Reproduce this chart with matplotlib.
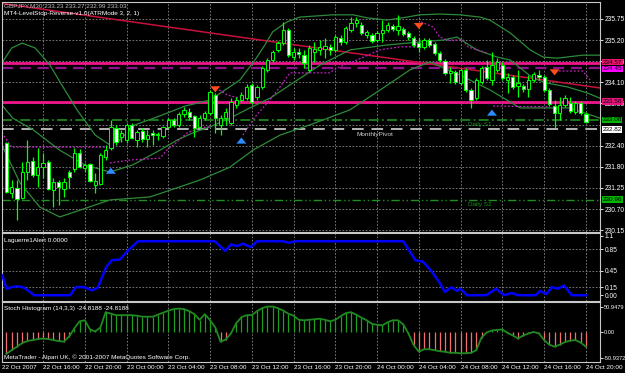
import numpy as np
import matplotlib
matplotlib.use("Agg")
import matplotlib.pyplot as plt
from matplotlib import font_manager

"""################# DATA (read off the chart) #################"""
# GBPJPY M30, bar index 0..111 (22 Oct 12:30 .. 24 Oct 20:00)
opens = [232.46, 231.13, 231.27, 231.00, 231.69, 231.98, 231.61, 231.82, 231.96, 231.21,
         231.43, 231.24, 231.69, 231.77, 232.19, 231.80, 231.90, 231.35, 231.37, 232.09,
         232.33, 232.86, 232.62, 232.54, 232.94, 232.54, 232.78, 232.57, 232.73, 232.67,
         232.65, 232.89, 233.07, 232.94, 233.23, 233.28, 233.18, 232.89, 233.12, 233.26,
         233.73, 232.94, 233.12, 232.99, 233.47, 233.60, 233.65, 234.00, 233.68, 233.95,
         234.40, 234.66, 234.93, 235.11, 235.46, 234.74, 234.87, 234.79, 234.40, 234.87,
         234.93, 234.95, 235.01, 234.93, 235.25, 235.14, 235.46, 235.64, 235.59, 235.33,
         235.33, 235.19, 235.38, 235.46, 235.56, 235.46, 235.48, 235.38, 235.25, 235.11,
         235.01, 235.19, 235.09, 234.85, 234.64, 234.32, 234.34, 234.05, 234.40, 233.87,
         233.65, 234.08, 234.48, 234.13, 234.40, 234.53, 234.13, 234.21, 233.97, 233.97,
         233.89, 234.13, 234.26, 234.21, 233.87, 233.44, 233.26, 233.47, 233.52, 233.28,
         233.52, 233.23]
highs = [232.49, 231.48, 231.48, 231.96, 232.54, 232.09, 232.33, 232.19, 232.01, 231.53,
         231.48, 231.53, 231.74, 232.33, 232.30, 231.93, 231.93, 231.66, 232.19, 232.41,
         233.07, 232.94, 232.81, 232.99, 232.99, 232.81, 232.86, 232.81, 232.81, 232.75,
         232.91, 233.12, 233.12, 233.28, 233.42, 233.39, 233.20, 233.20, 233.31, 233.87,
         233.79, 233.20, 233.39, 233.65, 233.68, 233.81, 234.03, 234.05, 234.00, 234.50,
         234.71, 234.93, 235.17, 235.67, 235.51, 234.98, 234.98, 234.93, 235.06, 235.14,
         235.19, 235.25, 235.09, 235.33, 235.33, 235.56, 235.80, 235.80, 235.67, 235.46,
         235.38, 235.43, 235.72, 235.67, 235.62, 235.86, 235.54, 235.43, 235.30, 235.25,
         235.25, 235.25, 235.14, 234.90, 234.69, 234.48, 234.40, 234.45, 234.45, 233.92,
         234.18, 234.50, 234.66, 234.87, 234.71, 234.61, 234.32, 234.26, 234.40, 234.03,
         234.26, 234.34, 234.40, 234.26, 233.92, 233.60, 233.68, 233.73, 233.68, 233.57,
         233.57, 233.27]
lows = [231.13, 231.00, 230.42, 230.97, 231.48, 231.56, 231.29, 231.53, 231.21, 230.76,
        230.82, 231.03, 231.27, 231.69, 231.80, 231.69, 231.43, 231.13, 231.35, 232.01,
        232.27, 232.41, 232.49, 232.46, 232.57, 232.35, 232.49, 232.35, 232.41, 232.54,
        232.59, 232.86, 232.89, 232.89, 233.15, 233.07, 232.62, 232.86, 233.07, 233.20,
        232.73, 232.67, 232.94, 232.94, 233.39, 233.55, 233.60, 233.50, 233.60, 233.89,
        234.34, 234.61, 234.87, 235.06, 234.74, 234.66, 234.71, 234.45, 234.34, 234.61,
        234.79, 234.71, 234.79, 234.87, 235.06, 235.09, 235.41, 235.54, 235.33, 235.25,
        235.11, 235.14, 235.14, 235.41, 235.43, 235.33, 235.30, 235.19, 235.01, 234.87,
        234.95, 235.01, 234.79, 234.61, 234.26, 234.05, 234.03, 234.00, 233.81, 233.39,
        233.60, 234.03, 234.13, 234.00, 234.34, 234.13, 233.79, 233.89, 233.68, 233.81,
        233.68, 234.08, 234.13, 233.81, 233.44, 232.86, 233.07, 233.42, 233.26, 233.23,
        233.20, 232.99]
closes = [231.16, 231.29, 230.97, 231.69, 231.96, 231.61, 231.82, 231.93, 231.24, 231.43,
          231.29, 231.43, 231.56, 232.19, 231.82, 231.88, 231.45, 231.45, 232.14, 232.27,
          232.89, 232.49, 232.73, 232.94, 232.59, 232.75, 232.57, 232.67, 232.67, 232.70,
          232.89, 233.07, 232.94, 233.23, 233.34, 233.15, 232.86, 233.12, 233.26, 233.81,
          233.12, 233.12, 233.28, 233.55, 233.60, 233.73, 233.95, 233.55, 233.95, 234.45,
          234.66, 234.87, 235.11, 235.46, 234.79, 234.87, 234.82, 234.58, 234.98, 234.95,
          235.01, 235.03, 234.93, 235.27, 235.14, 235.51, 235.64, 235.72, 235.38, 235.41,
          235.17, 235.38, 235.46, 235.59, 235.48, 235.56, 235.35, 235.27, 235.06, 235.01,
          235.19, 235.06, 234.85, 234.66, 234.32, 234.37, 234.08, 234.40, 233.87, 233.60,
          234.13, 234.45, 234.18, 234.53, 234.61, 234.18, 234.21, 233.95, 234.05, 233.89,
          234.13, 234.29, 234.21, 233.87, 233.50, 233.26, 233.47, 233.65, 233.31, 233.52,
          233.26, 233.03]

# Bollinger-type bands (vertices: bar index, price)
band_up_x = [-0.9, 1, 3, 5.5, 8.3, 10.6, 13.5, 17, 19.8, 21.7, 24.6, 29.4, 34.2, 39, 44.7, 47.6,
             49.5, 51, 53.7, 56.2, 62.5, 66.4, 69.1, 72.9, 76.7, 79.2, 83, 86.9, 90.7, 92.6,
             96.5, 100.3, 102.8, 105.5, 110.4, 113.7]
band_up_y = [234.58, 234.98, 235.11, 234.98, 234.53, 234.00, 233.34, 232.67, 232.41, 232.54,
             232.94, 233.18, 233.44, 233.60, 234.13, 234.66, 235.06, 235.41, 235.67, 235.80,
             235.86, 235.86, 235.78, 235.72, 235.80, 235.86, 235.88, 235.86, 235.80, 235.72,
             235.38, 234.93, 234.74, 234.71, 234.79, 234.79]
band_mid_x = [-0.9, 1.2, 5.1, 10.2, 15, 19.8, 24.2, 29.4, 32.7, 35.7, 39, 42.8, 46.6, 50.5, 54.3,
              60.1, 65.8, 72.9, 79.2, 83.6, 86.3, 90.1, 94, 96.5, 100.9, 103.5, 107.4, 111.2, 113.7]
band_mid_y = [233.47, 233.12, 232.81, 232.27, 231.88, 231.69, 231.88, 232.27, 232.54, 232.73,
              232.89, 233.12, 233.39, 233.65, 234.00, 234.53, 234.93, 235.06, 235.14, 235.19,
              235.27, 234.93, 234.74, 234.66, 234.18, 234.05, 233.95, 233.79, 233.65]
band_lo_x = [-0.9, 2.6, 6.4, 10.2, 14.1, 19.8, 27.5, 37.1, 42.8, 47.2, 52.4, 58.1, 65.8, 71.6,
             77.3, 81.1, 86.9, 92.6, 98.4, 104.1, 107.9, 113.7]
band_lo_y = [232.41, 231.40, 230.76, 230.50, 230.68, 230.95, 231.03, 231.48, 231.82, 232.27,
             232.67, 232.94, 233.34, 233.87, 234.40, 234.61, 234.26, 233.87, 233.39, 233.39,
             233.39, 233.12]

# LevelStop-Reverse trailing stop, one list per segment
stop_segments = [
    ([-0.9, 1, 19], [232.73, 232.35, 232.35]),
    ([19.8, 23.7, 29.4, 30.7, 32.7, 34.6, 37.1, 39], [231.93, 232.01, 232.06, 232.27, 232.49, 232.73, 232.86, 232.89]),
    ([40.1, 42.4, 44.7], [233.92, 233.73, 233.65]),
    ([45.3, 47.6, 50.9, 52.4, 54.3, 61.9, 63.3, 67.1, 71.5, 75.4, 78.6],
     [232.67, 233.15, 233.68, 233.95, 234.32, 234.32, 234.45, 234.66, 234.93, 235.01, 235.01]),
    ([79.4, 81.7, 83, 84.4, 87.5, 88.4, 92], [235.67, 235.54, 235.27, 235.19, 235.19, 235.01, 234.85]),
    ([93.2, 104.1], [233.44, 233.42]),
    ([105.1, 110.4, 111.8], [234.37, 234.37, 234.13]),
]
sell_x, sell_y = [40, 79, 105], [233.87, 235.55, 234.32]
buy_x, buy_y = [20, 45, 93], [231.74, 232.54, 233.28]

trend_x, trend_y = [-0.86, 113.7], [236.16, 233.92]

# horizontal levels: price, colour, style, width
levels = [
    (234.57, '#f0148c', '-', 2.0),
    (234.45, '#8c148c', (0, (5, 3)), 1.6),
    (233.56, '#f0148c', '-', 2.0),
    (233.08, '#1f8f1f', (0, (6, 2, 1, 2)), 1.2),
    (232.82, '#b4b4b4', (0, (6, 4)), 1.4),
    (230.96, '#1f8f1f', (0, (6, 2, 1, 2, 1, 2)), 1.0),
]
level_boxes = [(234.60, '#e8146e'), (234.43, '#ff00ff'), (233.56, '#e8147e'),
               (233.08, '#00b400'), (232.82, '#ffffff'), (230.96, '#00b400')]
level_texts = ['234.57', '234.45', '233.56', '233.08', '232.82', '230.96']

price_ticks = [235.75, 235.19, 234.63, 234.07, 233.51, 232.39, 231.83, 231.27, 230.71, 230.15]
price_labels = ['235.75', '235.20', '234.65', '234.10', '233.55', '232.40', '231.80', '231.25',
                '230.70', '230.15']

# Laguerre (vertices: bar index, value)
lag_x = [-0.8, 0, 1, 2, 3.4, 5.3, 12.2, 13.3, 14.8, 16.4, 17.5, 19.1, 20.2, 21.7, 23.3, 25.2,
         39.9, 41.9, 43, 44.2, 45.3, 46.8, 48, 53, 54.1, 55.3, 76, 78.3, 79.8, 81.3, 82.9, 84,
         85.2, 86.3, 87, 88.2, 91.9, 93.8, 95.3, 96.8, 98, 101.4, 102.2, 103.4, 104.5, 105.6,
         106.8, 108.3, 111]
lag_v = [0.37, 0.12, 0.15, 0.165, 0.14, 0.0, 0.0, 0.15, 0.15, 0.09, 0.14, 0.52, 0.65, 0.66,
         0.83, 1.0, 1.0, 0.82, 0.94, 0.91, 0.955, 0.89, 1.0, 1.0, 0.97, 1.0, 1.0, 0.65, 0.62,
         0.46, 0.24, 0.06, 0.15, 0.08, 0.12, 0.0, 0.0, 0.12, 0.0, 0.04, 0.0, 0.0, 0.08, 0.02,
         0.15, 0.12, 0.18, 0.0, 0.0]

# Stoch histogram, one value per bar
stoch = [-42, -35, -28, -21, -17, -15, -13, -12, -13, -15, -17, -18, -8, 8, 22, 24, 6, 2, 10, 40,
         37, 34, 34, 34, 34, 33, 31, 31, 31, 35, 39, 43, 46, 47, 46, 42, 36, 25, 36, 24,
         10, -18, -14, -2, 18, 30, 34, 34, 42, 48, 51, 51, 48, 43, 37, 33, 25, 24, 25, 26,
         27, 25, 22, 25, 32, 38, 40, 35, 29, 24, 17, 15, 14, 20, 24, 24, 16, -2, -25, -38,
         -33, -33, -35, -37, -38, -40, -40, -41, -41, -40, -35, -10, 0, 4, 5, 6, -1, -6, -12, -6,
         -2, 1, -2, -15, -24, -28, -24, -19, -16, -15, -20, -28]

time_ticks = [7, 15, 23, 31, 39, 47, 55, 63, 71, 79, 87, 95, 103, 111]
time_labels = ['22 Oct 16:00', '22 Oct 20:00', '23 Oct 00:00', '23 Oct 04:00', '23 Oct 08:00',
               '23 Oct 12:00', '23 Oct 16:00', '23 Oct 20:00', '24 Oct 00:00', '24 Oct 04:00',
               '24 Oct 08:00', '24 Oct 12:00', '24 Oct 16:00', '24 Oct 20:00']

"""################# FIGURE #################"""
names = {f.name for f in font_manager.fontManager.ttflist}
if 'Liberation Sans Narrow' in names:
    plt.rcParams['font.family'] = ['Liberation Sans Narrow', 'DejaVu Sans']
    fs, fs_tick = 5.3, 5.5
else:
    plt.rcParams['font.family'] = ['Liberation Sans', 'DejaVu Sans']
    fs, fs_tick = 4.6, 4.8

W, H = 625, 373
fig = plt.figure(figsize=(W / 100, H / 100), dpi=100, facecolor='black')

def px_axes(l, t, r, b):
    return fig.add_axes([l / W, 1 - b / H, (r - l) / W, (b - t) / H], facecolor='black')

ax = px_axes(2, 2, 600, 232)
axl = px_axes(2, 233, 600, 301)
axs = px_axes(2, 302, 600, 362)

XL = (-0.86, 113.7)
grid_kw = dict(color='#8a8a8a', lw=0.6, ls=(0, (2, 2)), zorder=0)

for a in (ax, axl, axs):
    a.set_xlim(*XL)
    for s in a.spines.values():
        s.set_color('#c8c8c8')
        s.set_linewidth(0.8)
    a.tick_params(axis='x', bottom=False, labelbottom=False)
    a.yaxis.tick_right()
    a.tick_params(axis='y', colors='white', labelsize=fs_tick, length=2, width=0.6, pad=1.5)
    for t in time_ticks:
        a.axvline(t, **grid_kw)

# ---- main panel
ax.set_ylim(230.10, 236.20)
ax.set_yticks(price_ticks)
ax.set_yticklabels(price_labels)
for p in price_ticks + [232.95]:
    ax.axhline(p, **grid_kw)

for p, c, ls, lw in levels:
    ax.axhline(p, color=c, ls=ls, lw=lw, zorder=2)

ax.plot(trend_x, trend_y, color='#c8103c', lw=1.1, zorder=2)
band_kw = dict(color='#2d8a3a', lw=0.9, zorder=2)
ax.plot(band_up_x, band_up_y, **band_kw)
ax.plot(band_mid_x, band_mid_y, **band_kw)
ax.plot(band_lo_x, band_lo_y, **band_kw)
for sx, sy in stop_segments:
    ax.plot(sx, sy, color='#c020c0', lw=0.9, ls=(0, (1.5, 1.5)), zorder=2)

idx = np.arange(len(closes))
o, h, l, c = map(np.array, (opens, highs, lows, closes))
ax.vlines(idx, l, h, color='#00ff00', lw=0.9, zorder=3)
bear = c < o
ax.bar(idx, np.maximum(np.abs(c - o), 0.01), bottom=np.minimum(o, c), width=0.62,
       color=np.where(bear, 'white', 'black'), edgecolor='#00ff00', linewidth=0.7, zorder=4)

arrow = dict(arrowstyle='simple,head_width=0.9,head_length=0.55,tail_width=0.4', lw=0,
             mutation_scale=8)
for x, y in zip(sell_x, sell_y):
    ax.annotate('', xy=(x, y - 0.14), xytext=(x, y + 0.12),
                arrowprops=dict(color='#ff4a1a', **arrow), zorder=5)
for x, y in zip(buy_x, buy_y):
    ax.annotate('', xy=(x, y + 0.14), xytext=(x, y - 0.12),
                arrowprops=dict(color='#2a8cff', **arrow), zorder=5)

ax.text(88.4, 232.96, 'Daily S1', color='#1f8f1f', fontsize=fs, va='center')
ax.text(88.4, 230.84, 'Daily S2', color='#1f8f1f', fontsize=fs, va='center')
ax.text(67.1, 232.69, 'MonthlyPivot', color='#d0d0d0', fontsize=fs, va='center')

for (p, bg), txt in zip(level_boxes, level_texts):
    ax.text(1.004, p, txt, transform=ax.get_yaxis_transform(), fontsize=fs_tick - 0.2,
            color='black', va='center', ha='left', zorder=6,
            bbox=dict(boxstyle='square,pad=0.1', fc=bg, ec='none'), clip_on=False)

ax.text(0.004, 0.996, 'GBPJPY,M30 233.23 233.27 232.99 233.03', transform=ax.transAxes,
        color='#c0c0c0', fontsize=fs, va='top')
ax.text(0.004, 0.962, 'MT4-LevelStop-Reverse-v1.0(ATRMode 3, 2, 1)', transform=ax.transAxes,
        color='white', fontsize=fs, va='top')

# ---- Laguerre panel
axl.set_ylim(-0.107, 1.152)
axl.set_yticks([1.1, 0.85, 0.45, 0.15, 0.0])
axl.set_yticklabels(['1.1', '0.85', '0.45', '0.15', '0.00'])
for v in (0.85, 0.45, 0.15):
    axl.axhline(v, **grid_kw)
axl.plot(lag_x, lag_v, color='#0000ff', lw=1.8, zorder=3)
axl.text(0.004, 0.93, 'Laguerre1Alert 0.0000', transform=axl.transAxes, color='white',
         fontsize=fs, va='top')

# ---- Stoch histogram panel
axs.set_ylim(-58.2, 60)
axs.set_yticks([50.9479, 0, -50.9372])
axs.set_yticklabels(['50.9479', '0.00', '-50.9372'])
axs.tick_params(axis='y', labelsize=fs_tick - 0.7, pad=1)
sv = np.array(stoch)
axs.vlines(idx, 0, sv, colors=np.where(sv >= 0, '#1e9e1e', '#f07070'), lw=0.9, zorder=2)
axs.plot(idx, sv, color='#1f8a1f', lw=1.3, zorder=3)
axs.text(0.004, 0.93, 'Stoch Histogram (14,3,3) -24.8188 -24.8188', transform=axs.transAxes,
         color='white', fontsize=fs, va='top')
axs.text(0.004, 0.04, 'MetaTrader - Alpari UK, \u00a9 2001-2007 MetaQuotes Software Corp.',
         transform=axs.transAxes, color='white', fontsize=fs, va='bottom')

# ---- time axis
axs.text(XL[0], -0.05, '22 Oct 2007', transform=axs.get_xaxis_transform(), color='white',
         fontsize=fs, va='top', ha='left', clip_on=False)
for t, lab in zip(time_ticks, time_labels):
    axs.text(t, -0.05, lab, transform=axs.get_xaxis_transform(), color='white', fontsize=fs,
             va='top', ha='left', clip_on=False)

fig.savefig('out.png', dpi=100, facecolor='black')
